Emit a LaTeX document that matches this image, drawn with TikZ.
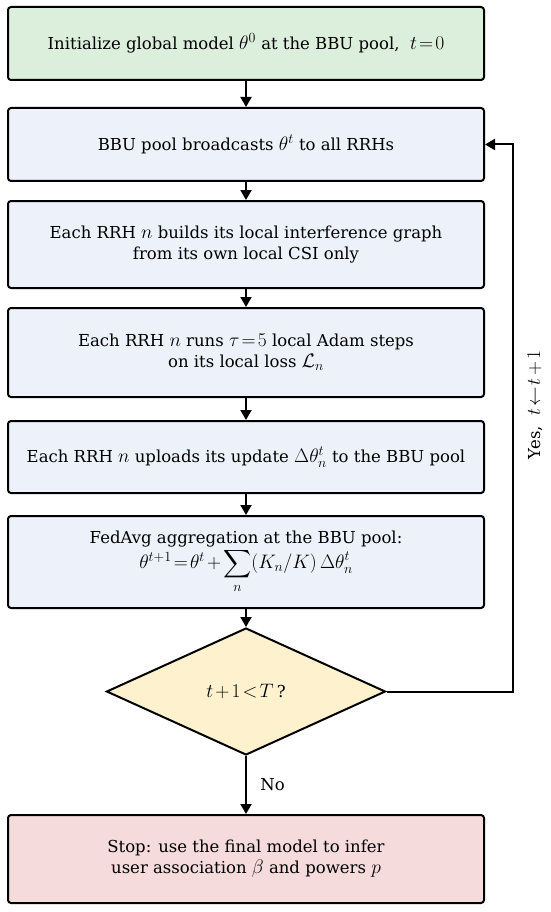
\RequirePackage{fix-cm}
\documentclass[tikz,border=0pt]{standalone}
\usepackage{fontspec}
\setmainfont{DejaVu Serif}
\DeclareFontShape{OMX}{cmex}{m}{n}{<->cmex10}{}
\DeclareMathSizes{16.5}{19.5}{14}{10}
\thickmuskip=2mu plus 1mu
\medmuskip=2mu plus 1mu
\usetikzlibrary{shapes.geometric,arrows.meta}
\definecolor{initgreen}{RGB}{220,239,220}
\definecolor{stepblue}{RGB}{237,242,250}
\definecolor{testyellow}{RGB}{253,241,206}
\definecolor{stoppink}{RGB}{246,219,220}
\tikzset{
	stepbox/.style={draw=black, line width=2pt, rounded corners=3pt, minimum width=476pt, align=center, inner sep=0pt},
	testbox/.style={diamond, draw=black, line width=2pt, fill=testyellow, minimum width=279pt, minimum height=127pt, aspect=2.2, inner sep=0pt},
	flow/.style={line width=2pt, -{Triangle[width=11pt,length=10pt]}},
}

\begin{document}
\begin{tikzpicture}[x=1pt, y=-1pt, font=\fontsize{16.5}{21}\selectfont]
	\useasboundingbox (0,0) rectangle (550,912);
	\node[stepbox, fill=initgreen, minimum height=73pt] (init) at (246,43.5) {Initialize global model $\theta^0$ at the BBU pool,\ \ $t=0$};
	\node[stepbox, fill=stepblue, minimum height=73pt] (bcast) at (246,144.5) {BBU pool broadcasts $\theta^t$ to all RRHs};
	\node[stepbox, fill=stepblue, minimum height=87pt] (graph) at (246,244.5) {Each RRH $n$ builds its local interference graph\\from its own local CSI only};
	\node[stepbox, fill=stepblue, minimum height=89pt] (adam) at (246,352.5) {Each RRH $n$ runs $\tau=5$ local Adam steps\\on its local loss $\mathcal{L}_n$};
	\node[stepbox, fill=stepblue, minimum height=72pt] (upload) at (246,457) {Each RRH $n$ uploads its update $\Delta\theta_n^t$ to the BBU pool};
	\node[stepbox, fill=stepblue, minimum height=92pt] (avg) at (246,562) {FedAvg aggregation at the BBU pool:\\$\theta^{t+1}=\theta^t+\displaystyle\sum_n(K_n/K)\,\Delta\theta_n^t$};
	\node[testbox] (check) at (246,691.5) {$t+1<T\,$?};
	\node[stepbox, fill=stoppink, minimum height=88pt] (stop) at (246,859) {Stop: use the final model to infer\\user association $\beta$ and powers $p$};
	\coordinate (loop) at (513,691.5);

	\draw[flow] (init) -- (bcast);
	\draw[flow] (bcast) -- (graph);
	\draw[flow] (graph) -- (adam);
	\draw[flow] (adam) -- (upload);
	\draw[flow] (upload) -- (avg);
	\draw[flow] (avg) -- (check);
	\draw[flow] (check) -- node[right=10pt] (no) {No} (stop);
	\draw[flow] (check.east) -- (loop) |- (bcast.east);
	\node[rotate=90] (yes) at (535,405) {Yes,\ \ $t\leftarrow t+1$};
\end{tikzpicture}
\end{document}
